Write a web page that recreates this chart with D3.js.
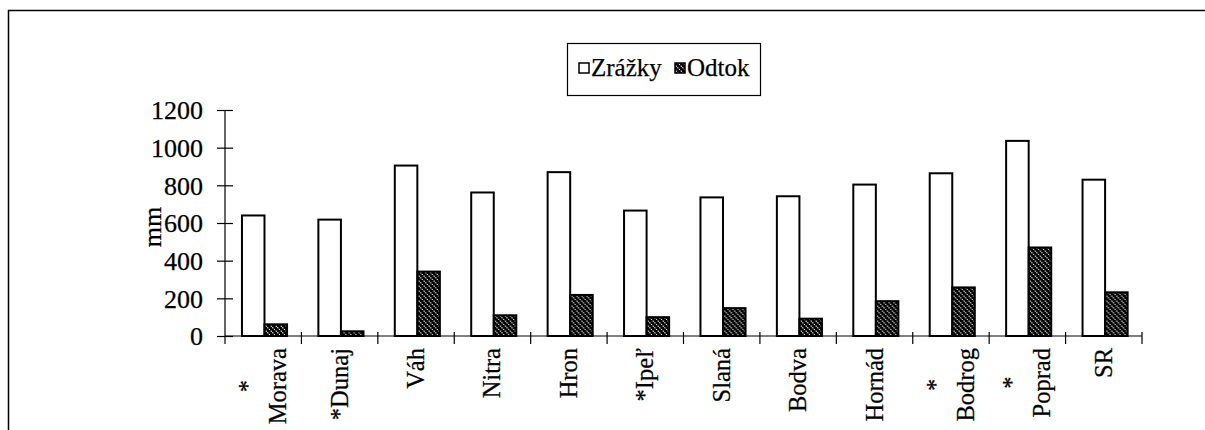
<!DOCTYPE html>
<html>
<head>
<meta charset="utf-8">
<script src="https://cdn.jsdelivr.net/npm/d3@7"></script>
<style>
    body { margin: 0; background: #fff; }
    svg text { font-family: "Liberation Serif", "DejaVu Serif", serif; fill: #000; stroke: #000; stroke-width: 0.25; }
</style>
</head>
<body>
<svg id="bar-vis" width="1205" height="430"></svg>
<script>
// values (mm)
const categories = ["* Morava", "*Dunaj", "Váh", "Nitra", "Hron", "*Ipeľ", "Slaná", "Bodva", "Hornád", "* Bodrog", "* Poprad", "SR"];
const zrazky = [640, 618, 905, 762, 870, 666, 736, 742, 804, 864, 1036, 830];
const odtok = [62, 25, 342, 110, 218, 100, 148, 92, 185, 258, 470, 232];
const seriesNames = ["Zrážky", "Odtok"];
const yTicks = [0, 200, 400, 600, 800, 1000, 1200];

const FONT = "Liberation Serif, DejaVu Serif, serif";

class BarChart {
    constructor() {
        this.svg = d3.select("svg#bar-vis");
        this.bounds = {
            minX: 225,
            maxX: 1142,
            minY: 110,
            maxY: 336,
        };

        this.addPattern();
        this.drawFrame();

        this.updateXScale();
        this.updateYScale();
        this.drawBars();
        this.updateYAxis();
        this.updateXAxis();
        this.drawLegend();
    }

    addPattern() {
        let pat = this.svg.append("defs").append("pattern")
            .attr("id", "hatch")
            .attr("patternUnits", "userSpaceOnUse")
            .attr("width", 5).attr("height", 5);
        pat.append("rect").attr("width", 5).attr("height", 5).attr("fill", "#000");
        pat.append("path")
            .attr("d", "M-1,-1 L6,6")
            .attr("stroke", "#fff")
            .attr("stroke-width", 1.1)
            .attr("stroke-dasharray", "1.4,1");
    }

    drawFrame() {
        // outer chart area border (cut off at right and bottom)
        this.svg.append("path")
            .attr("d", "M8.5,432 L8.5,10.5 L1205,10.5")
            .attr("fill", "none")
            .attr("stroke", "#000")
            .attr("stroke-width", 1.5);
    }

    updateXScale() {
        this.scaleX = d3.scaleBand().domain(categories)
            .range([this.bounds.minX, this.bounds.maxX]);
        let bw = this.scaleX.bandwidth();
        this.scaleSub = d3.scaleBand().domain(seriesNames)
            .range([bw * 0.222, bw * 0.812]);
    }

    updateYScale() {
        this.scaleY = d3.scaleLinear().domain([0, 1200])
            .range([this.bounds.maxY, this.bounds.minY]);
    }

    drawBars() {
        let rows = categories.map((c, i) => ({ cat: c, vals: [zrazky[i], odtok[i]] }));
        let groups = this.svg.append("g").selectAll("g")
            .data(rows).join("g")
            .attr("transform", d => `translate(${this.scaleX(d.cat)} 0)`);
        groups.selectAll("rect")
            .data(d => d.vals.map((v, k) => ({ s: seriesNames[k], v: v })))
            .join("rect")
            .attr("x", d => this.scaleSub(d.s))
            .attr("width", this.scaleSub.bandwidth())
            .attr("y", d => this.scaleY(d.v))
            .attr("height", d => this.scaleY(0) - this.scaleY(d.v))
            .attr("fill", d => d.s === "Zrážky" ? "#fff" : "url(#hatch)")
            .attr("stroke", "#000")
            .attr("stroke-width", 2);
    }

    updateYAxis() {
        let axisG = this.svg.append("g")
            .attr("transform", `translate(${this.bounds.minX} 0)`);
        let yAxis = d3.axisLeft(this.scaleY).tickValues(yTicks)
            .tickFormat(d3.format("d"))
            .tickSizeInner(8).tickSizeOuter(0).tickPadding(14);
        axisG.call(yAxis);
        axisG.attr("font-family", FONT).attr("font-size", 26);
        axisG.select(".domain").remove();
        axisG.selectAll(".tick line").attr("x1", 8).attr("stroke-width", 1.2);
        axisG.selectAll(".tick text").attr("dy", "0.34em");
        axisG.append("line")
            .attr("y1", this.bounds.minY).attr("y2", this.bounds.maxY + 8)
            .attr("stroke", "#000").attr("stroke-width", 1.2);

        this.svg.append("text")
            .attr("transform", `translate(161 ${this.scaleY(600) + 4}) rotate(-90)`)
            .attr("text-anchor", "middle")
            .attr("font-family", FONT)
            .attr("font-size", 26)
            .text("mm");
    }

    updateXAxis() {
        let y0 = this.scaleY(0);
        let g = this.svg.append("g").attr("font-family", FONT);
        g.append("line")
            .attr("x1", this.bounds.minX).attr("x2", this.bounds.maxX)
            .attr("y1", y0).attr("y2", y0)
            .attr("stroke", "#000").attr("stroke-width", 1.2);
        let edges = categories.slice(1).map(c => this.scaleX(c)).concat([this.bounds.maxX]);
        g.selectAll("line.tick").data(edges).join("line")
            .attr("class", "tick")
            .attr("x1", d => d).attr("x2", d => d)
            .attr("y1", y0 - 4).attr("y2", y0 + 8)
            .attr("stroke", "#000").attr("stroke-width", 1.2);

        // rotated category labels, lines centred, block ending just under the axis
        let top = y0 + 12;
        let bw = this.scaleX.bandwidth();
        categories.forEach(c => {
            let lines = c.split(" ");
            let cx = this.scaleX(c) + bw / 2;
            let texts = lines.map(t => g.append("text")
                .attr("font-size", 24.5)
                .attr("text-anchor", "middle")
                .text(t));
            let maxW = d3.max(texts, t => t.node().getComputedTextLength());
            let n = lines.length;
            texts.forEach((t, k) => {
                let x = cx + (k - (n - 1) / 2) * 30 + 8;
                t.attr("transform", `translate(${x} ${top + maxW / 2}) rotate(-90)`);
            });
        });
    }

    drawLegend() {
        let g = this.svg.append("g").attr("font-family", FONT);
        g.append("rect")
            .attr("x", 567.5).attr("y", 43.5).attr("width", 193).attr("height", 52)
            .attr("fill", "#fff").attr("stroke", "#000").attr("stroke-width", 1.2);
        let items = [{ name: seriesNames[0], x: 579, fill: "#fff" },
                     { name: seriesNames[1], x: 675, fill: "url(#hatch)" }];
        items.forEach(it => {
            g.append("rect")
                .attr("x", it.x).attr("y", 63).attr("width", 10).attr("height", 10)
                .attr("fill", it.fill).attr("stroke", "#000").attr("stroke-width", 1.5);
            g.append("text")
                .attr("x", it.x + 12).attr("y", 76)
                .attr("font-size", 25)
                .text(it.name);
        });
    }
}

new BarChart();
</script>
</body>
</html>
